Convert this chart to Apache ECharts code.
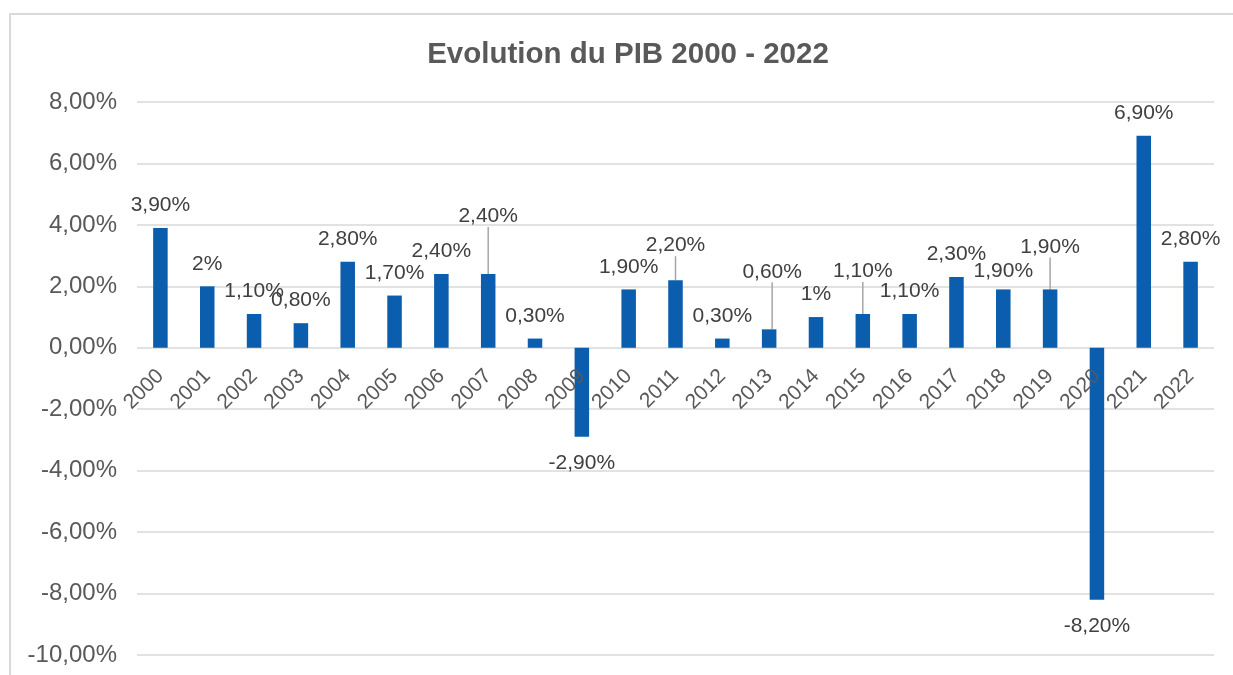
<!DOCTYPE html>
<html>
<head>
<meta charset="utf-8">
<script src="https://cdn.jsdelivr.net/npm/echarts@6/dist/echarts.min.js"></script>
<style>
  html, body { margin: 0; padding: 0; background: #ffffff; }
  #chart { width: 1233px; height: 675px; }
</style>
</head>
<body>
<div id="chart"></div>
<script>
// ---- data ----
const years = ['2000','2001','2002','2003','2004','2005','2006','2007','2008','2009','2010','2011','2012','2013','2014','2015','2016','2017','2018','2019','2020','2021','2022'];
const growth = [3.9, 2, 1.1, 0.8, 2.8, 1.7, 2.4, 2.4, 0.3, -2.9, 1.9, 2.2, 0.3, 0.6, 1, 1.1, 1.1, 2.3, 1.9, 1.9, -8.2, 6.9, 2.8];
const yTicks = { min: -10, max: 8, step: 2 };
const chartTitle = 'Evolution du PIB 2000 - 2022';

// ---- style: label nudges [dx, dy] and which labels get a leader line ----
const labelNudge = [[0,0],[0,0],[0,0],[0,0],[0,0],[0,0],[0,0],[0,-35],[0,0],[0,0],[0,0],[0,-12],[0,0],[3,-35],[0,0],[0,-20],[0,0],[0,0],[0,4],[0,-20],[0,0],[0,0],[0,0]];
const leaderLine = [7, 11, 13, 15, 19];

const fmtLabel = v => Number.isInteger(v) ? v + '%' : v.toFixed(2).replace('.', ',') + '%';
const fmtAxis = v => v.toFixed(2).replace('.', ',') + '%';

const FONT = '"Liberation Sans", Arial, sans-serif';

const seriesData = growth.map((v, i) => ({
  value: v,
  label: { position: v < 0 ? 'bottom' : 'top', distance: v < 0 ? 16 : 12 },
  labelLine: { show: leaderLine.indexOf(i) >= 0 }
}));

const chart = echarts.init(document.getElementById('chart'), null, { renderer: 'canvas' });
chart.setOption({
  backgroundColor: '#ffffff',
  animation: false,
  title: {
    text: chartTitle,
    left: 623,
    top: 35,
    textAlign: 'center',
    textStyle: { fontFamily: FONT, fontSize: 29.5, fontWeight: 'bold', color: '#595959' }
  },
  graphic: [{
    type: 'rect',
    shape: { x: 10, y: 14, width: 1260, height: 720 },
    style: { fill: 'none', stroke: '#D9D9D9', lineWidth: 2 },
    silent: true,
    z: -1
  }],
  grid: { left: 137, right: 19, top: 102, bottom: 20, containLabel: false, outerBoundsMode: 'none' },
  xAxis: {
    type: 'category',
    data: years,
    position: 'bottom',
    offset: 0,
    z: 5,
    axisLine: { show: false, onZero: false },
    axisTick: { show: false },
    axisLabel: { rotate: 45, margin: 25, fontFamily: FONT, fontSize: 21, color: '#595959', interval: 0 }
  },
  yAxis: {
    type: 'value',
    min: yTicks.min,
    max: yTicks.max,
    interval: yTicks.step,
    axisLine: { show: false },
    axisTick: { show: false },
    splitLine: { lineStyle: { color: '#D9D9D9', width: 1.5 } },
    axisLabel: { formatter: fmtAxis, margin: 20, fontFamily: FONT, fontSize: 24, color: '#595959' }
  },
  series: [{
    type: 'bar',
    data: seriesData,
    barWidth: '31%',
    itemStyle: { color: '#0B5DAD' },
    label: {
      show: true,
      formatter: p => fmtLabel(p.value),
      fontFamily: FONT,
      fontSize: 21,
      color: '#404040'
    },
    labelLine: { show: false, lineStyle: { color: '#A6A6A6', width: 1.5 } },
    labelLayout: function (p) {
      const n = labelNudge[p.dataIndex];
      return { dx: n[0], dy: n[1] };
    }
  }]
});

// place the category labels on the zero line (axis crosses at 0), using the library's own scale
const zeroY = chart.convertToPixel({ yAxisIndex: 0 }, 0);
const minY = chart.convertToPixel({ yAxisIndex: 0 }, yTicks.min);
chart.setOption({ xAxis: { offset: zeroY - minY } });
</script>
</body>
</html>
